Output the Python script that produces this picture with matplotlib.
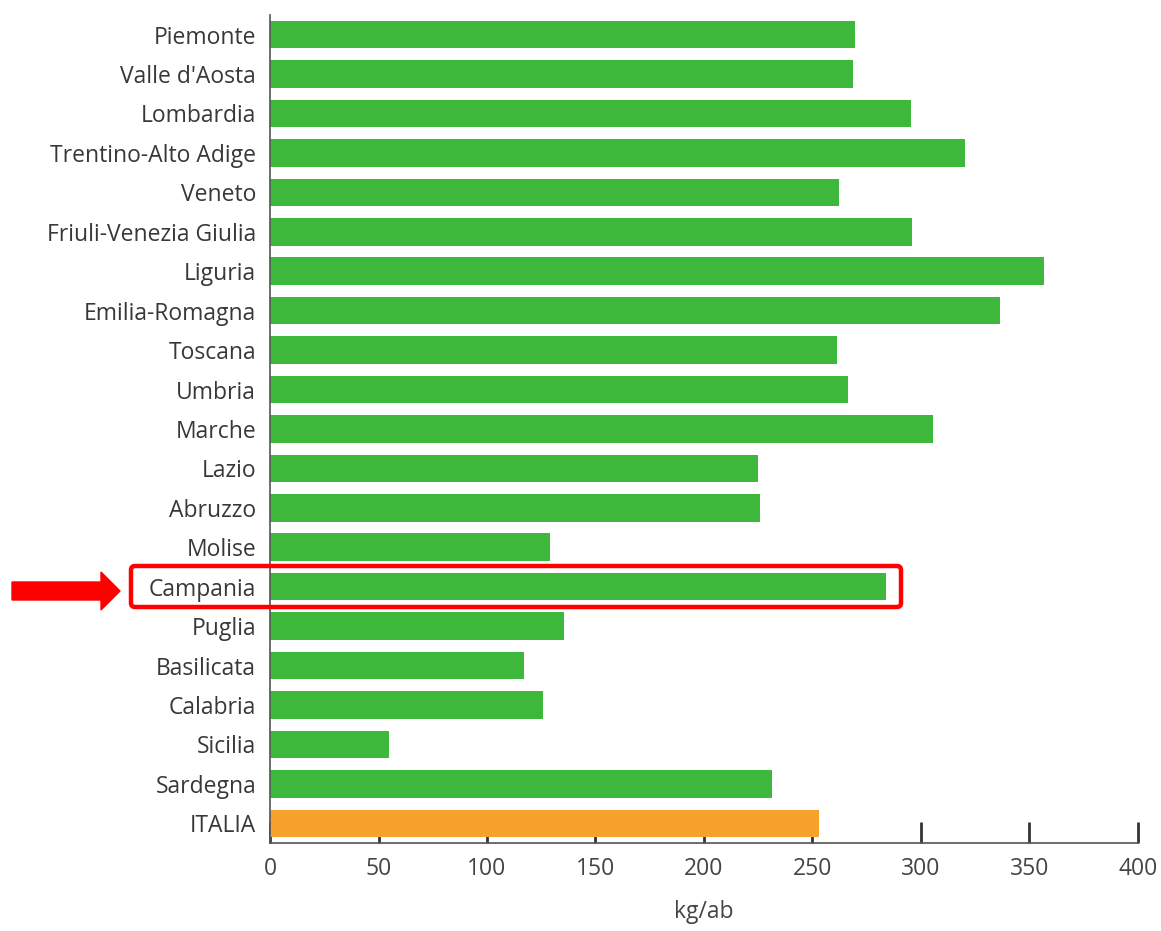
import matplotlib
matplotlib.use("Agg")
import matplotlib.pyplot as plt
import matplotlib.patches as mpatches

regions = ["Piemonte", "Valle d'Aosta", "Lombardia", "Trentino-Alto Adige", "Veneto",
           "Friuli-Venezia Giulia", "Liguria", "Emilia-Romagna", "Toscana", "Umbria",
           "Marche", "Lazio", "Abruzzo", "Molise", "Campania", "Puglia", "Basilicata",
           "Calabria", "Sicilia", "Sardegna", "ITALIA"]
values = [269.5, 268.5, 295.5, 320.5, 262.5, 296, 357, 336.5, 261.5, 266.5,
          305.5, 225, 226, 129, 284, 135.5, 117, 126, 55, 231.5, 253]
colors = ["#3db83a"] * 20 + ["#f5a12a"]
xticks = [0, 50, 100, 150, 200, 250, 300, 350, 400]

plt.rcParams['font.family'] = ['Open Sans', 'DejaVu Sans']

fig = plt.figure(figsize=(11.61, 9.31), dpi=100)
ax = fig.add_axes([0.2326, 0.0945, 0.7474, 0.8895])

ypos = list(range(len(regions)))
ax.barh(ypos, values, height=0.7, color=colors, zorder=2)
ax.set_axisbelow(True)

ax.set_xlim(0, 400)
ax.set_ylim(20.5, -0.5)
ax.set_yticks(ypos)
ax.set_yticklabels(regions, fontsize=16.5, color="#383838")
ax.set_xticks(xticks)
ax.set_xticklabels([str(t) for t in xticks], fontsize=16.5, color="#444444")
ax.tick_params(axis="y", length=0, pad=10)
ax.tick_params(axis="x", direction="in", length=15, width=2, color="#333333", pad=10)
ax.set_xlabel("kg/ab", fontsize=16.5, color="#444444", labelpad=14)

for side in ["top", "right"]:
    ax.spines[side].set_visible(False)
ax.spines["left"].set_color("#555555")
ax.spines["bottom"].set_color("#555555")
ax.spines["left"].set_linewidth(1.2)
ax.spines["bottom"].set_linewidth(1.2)

# highlight box around Campania (figure inches)
box = mpatches.FancyBboxPatch((1.31, (931 - 607) / 100), 7.70, 0.41,
                              boxstyle="round,pad=0,rounding_size=0.04",
                              transform=fig.dpi_scale_trans, fill=False,
                              edgecolor="#ff0000", linewidth=3.2, clip_on=False, zorder=10)
fig.patches.append(box)

arrow = mpatches.FancyArrow(0.12, (931 - 591) / 100, 1.08, 0, width=0.18,
                            head_width=0.38, head_length=0.19, length_includes_head=True,
                            transform=fig.dpi_scale_trans, color="#ff0000", zorder=10)
fig.patches.append(arrow)

fig.savefig("out.png", dpi=100)
